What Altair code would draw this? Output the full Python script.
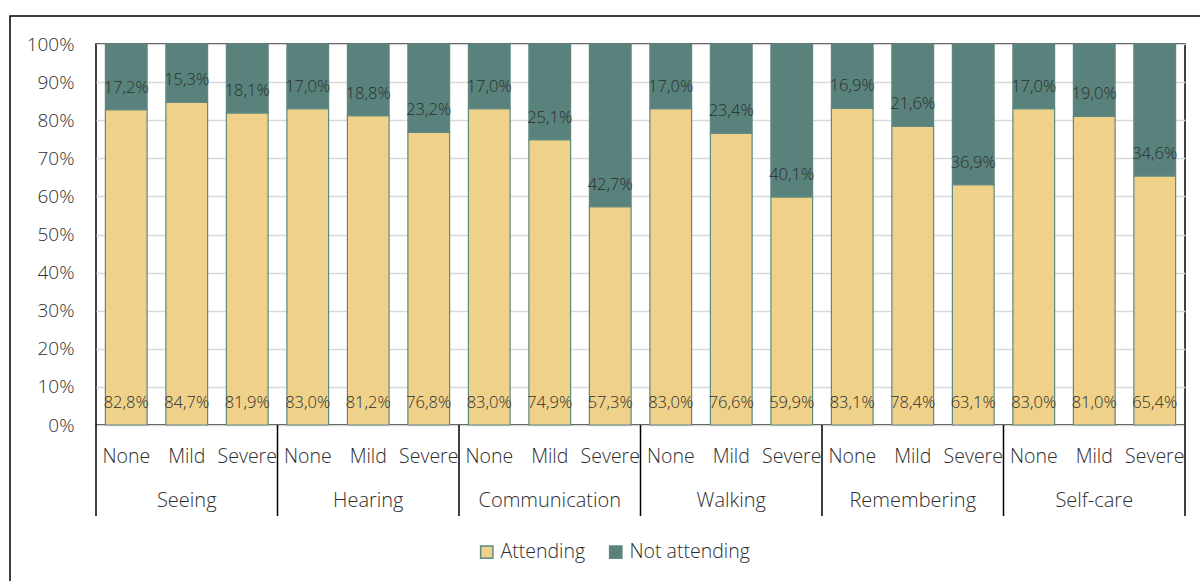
import altair as alt
import pandas as pd

groups = ["Seeing", "Hearing", "Communication", "Walking", "Remembering", "Self-care"]
levels = ["None", "Mild", "Severe"]
attending = [82.8, 84.7, 81.9, 83.0, 81.2, 76.8, 83.0, 74.9, 57.3,
             83.0, 76.6, 59.9, 83.1, 78.4, 63.1, 83.0, 81.0, 65.4]
not_attending = [17.2, 15.3, 18.1, 17.0, 18.8, 23.2, 17.0, 25.1, 42.7,
                 17.0, 23.4, 40.1, 16.9, 21.6, 36.9, 17.0, 19.0, 34.6]
series = ["Attending", "Not attending"]
colors = ["#EFD18A", "#58827B"]
y_ticks = [0, 10, 20, 30, 40, 50, 60, 70, 80, 90, 100]

FONT = "Open Sans"
WEIGHT = 300
TEXT = "#2E2E2E"
W, H = 1089, 381


def pct(v):
    return f"{v:.1f}%".replace(".", ",")


keys = [f"{g}|{lv}" for g in groups for lv in levels]

rows = []
for i, (a, n) in enumerate(zip(attending, not_attending)):
    rows.append(dict(key=keys[i], series=series[0], lo=0.0, hi=a, label=pct(a)))
    rows.append(dict(key=keys[i], series=series[1], lo=a, hi=a + n, label=pct(n)))
bars_df = pd.DataFrame(rows)

level_df = pd.DataFrame({"key": keys, "level": [k.split("|")[1] for k in keys]})
group_df = pd.DataFrame({"key": [f"{g}|{levels[1]}" for g in groups], "group": groups})
sep_df = pd.DataFrame({"pos": [3 * i for i in range(len(groups) + 1)]})

xband = alt.X("key:N", sort=keys, axis=None,
              scale=alt.Scale(paddingInner=0.31, paddingOuter=0.155))
yscale = alt.Scale(domain=[0, 100], nice=False)
yaxis = alt.Axis(values=y_ticks, labelExpr="datum.value + '%'",
                 grid=True, gridColor="#D9D9D9", gridWidth=1.5,
                 domain=False, ticks=False, labelPadding=22,
                 labelOverlap=False, labelFontSize=19,
                 labelFont=FONT, labelFontWeight=WEIGHT, labelColor=TEXT)

bars = alt.Chart(bars_df).mark_bar(stroke="#5E8881", strokeWidth=1.2).encode(
    x=xband,
    y=alt.Y("lo:Q", scale=yscale, title=None, axis=yaxis),
    y2="hi:Q",
    color=alt.Color("series:N", sort=series,
                    scale=alt.Scale(domain=series, range=colors),
                    legend=alt.Legend(title=None, orient="none", direction="horizontal",
                                      legendX=381, legendY=498,
                                      symbolType="square", symbolSize=150,
                                      symbolStrokeColor="#5E8881", symbolStrokeWidth=1.5,
                                      labelFontSize=19.5, labelFont=FONT,
                                      labelFontWeight=WEIGHT, labelColor=TEXT,
                                      columnPadding=20, labelOffset=4)),
)

labels = alt.Chart(bars_df).mark_text(
    dy=-22, baseline="middle", fontSize=16.5, font=FONT, fontWeight=WEIGHT, color=TEXT
).encode(x=xband, y=alt.Y("lo:Q", scale=yscale, title=None, axis=yaxis), text="label:N")

level_text = alt.Chart(level_df).mark_text(
    baseline="middle", fontSize=19.5, font=FONT, fontWeight=WEIGHT, color=TEXT
).encode(x=xband, y=alt.value(H + 32), text="level:N")

group_text = alt.Chart(group_df).mark_text(
    baseline="middle", fontSize=20, font=FONT, fontWeight=WEIGHT, color=TEXT
).encode(x=xband, y=alt.value(H + 76), text="group:N")

separators = alt.Chart(sep_df).mark_rule(color="#000000", strokeWidth=1.5).encode(
    x=alt.X("pos:Q", scale=alt.Scale(domain=[0, 18], nice=False), axis=None),
    y=alt.value(H),
    y2=alt.value(H + 91),
)

frame = alt.Chart(alt.Data(values=[{}])).mark_rect(
    filled=False, stroke="#000000", strokeWidth=1.5
).encode(x=alt.value(-86), x2=alt.value(W + 200),
         y=alt.value(-28), y2=alt.value(H + 300))

chart = alt.layer(bars, labels, level_text, group_text, separators, frame).resolve_scale(
    x="independent"
).properties(
    width=W, height=H,
    autosize=alt.AutoSizeParams(type="none"),
    padding={"left": 96, "top": 44, "right": 15, "bottom": 156},
).configure_view(stroke="#000000", strokeWidth=1.5)

chart.save("out.html", embed_options={"renderer": "svg", "actions": False})
